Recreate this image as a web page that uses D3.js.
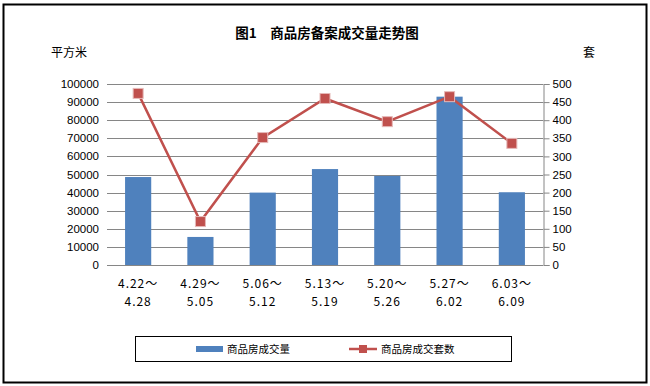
<!DOCTYPE html>
<html>
<head>
<meta charset="utf-8">
<script src="https://cdn.jsdelivr.net/npm/d3@7"></script>
<style>
  body { margin: 0; background: #fff; }
  svg { display: block; }
</style>
</head>
<body>
<svg id="chart" width="650" height="386"></svg>
<script>
// weekly periods, two lines per label
const periods = [["4.22～", "4.28"], ["4.29～", "5.05"], ["5.06～", "5.12"], ["5.13～", "5.19"],
                 ["5.20～", "5.26"], ["5.27～", "6.02"], ["6.03～", "6.09"]];
const areaValues = [48600, 15500, 40000, 53000, 49200, 93000, 40200];   // 平方米
const unitValues = [474, 120, 352, 460, 396, 465, 336];                 // 套
const leftTicks = d3.range(0, 100001, 10000);
const rightTicks = d3.range(0, 501, 50);

const svg = d3.select("#chart");
const margin = {top: 84, left: 107, right: 107, bottom: 121};
const width = 650 - margin.left - margin.right;
const height = 386 - margin.top - margin.bottom;

const latin = "'Liberation Sans', Arial, sans-serif";
const cjk = "'Noto Sans CJK SC', sans-serif";

// outer frame
svg.append("rect")
    .attr("x", 3.5).attr("y", 4.5)
    .attr("width", 643).attr("height", 378)
    .attr("fill", "none").attr("stroke", "#000").attr("stroke-width", 2);

svg.append("text")
    .attr("x", 327).attr("y", 38)
    .attr("text-anchor", "middle")
    .style("font-family", cjk).style("font-weight", "bold").style("font-size", "13.5px")
    .text("图1\u3000商品房备案成交量走势图");

svg.append("text")
    .attr("x", 51).attr("y", 57)
    .style("font-family", cjk).style("font-size", "12px")
    .text("平方米");

svg.append("text")
    .attr("x", 583).attr("y", 57)
    .style("font-family", cjk).style("font-size", "12px")
    .text("套");

const g = svg.append("g").attr("transform", `translate(${margin.left},${margin.top})`);

const x = d3.scaleBand().domain(d3.range(periods.length)).range([0, width]).paddingInner(0.58).paddingOuter(0.29);
const yLeft = d3.scaleLinear().domain([0, 100000]).range([height, 0]);
const yRight = d3.scaleLinear().domain([0, 500]).range([height, 0]);

// gridlines
g.append("g").selectAll("line")
    .data(leftTicks)
    .join("line")
    .attr("x1", 0).attr("x2", width)
    .attr("y1", d => Math.round(yLeft(d)) + 0.5)
    .attr("y2", d => Math.round(yLeft(d)) + 0.5)
    .attr("stroke", "#868686");

// left tick labels
g.append("g").selectAll("text")
    .data(leftTicks)
    .join("text")
    .attr("x", -8)
    .attr("y", d => yLeft(d) + 4)
    .attr("text-anchor", "end")
    .style("font-family", latin).style("font-size", "11.5px")
    .text(d => d);

// right axis
const rightAxis = g.append("g")
    .attr("transform", `translate(${width + 0.5},0)`)
    .call(d3.axisRight(yRight).tickValues(rightTicks).tickSize(6).tickPadding(3).tickFormat(d3.format("d")));
rightAxis.select(".domain").attr("stroke", "#868686");
rightAxis.selectAll(".tick line").attr("stroke", "#868686");
rightAxis.selectAll("text").style("font-family", latin).style("font-size", "11.5px").attr("fill", "#000");

// bars
g.append("g").selectAll("rect")
    .data(areaValues)
    .join("rect")
    .attr("x", (d, i) => x(i))
    .attr("y", d => yLeft(d))
    .attr("width", x.bandwidth())
    .attr("height", d => height - yLeft(d))
    .attr("fill", "#4f81bd");

// line + markers
const cx = i => x(i) + x.bandwidth() / 2;
g.append("path")
    .datum(unitValues)
    .attr("fill", "none")
    .attr("stroke", "#c0504d")
    .attr("stroke-width", 2.5)
    .attr("d", d3.line().x((d, i) => cx(i)).y(d => yRight(d)));

g.append("g").selectAll("rect")
    .data(unitValues)
    .join("rect")
    .attr("x", (d, i) => cx(i) - 5)
    .attr("y", d => yRight(d) - 5)
    .attr("width", 10).attr("height", 10)
    .attr("fill", "#c0504d")
    .attr("stroke", "#e6b9b8").attr("stroke-width", 1);

// category labels
const cat = g.append("g").selectAll("text")
    .data(periods)
    .join("text")
    .attr("text-anchor", "middle")
    .style("font-family", cjk).style("font-size", "12px")
    .style("letter-spacing", "1px");
cat.append("tspan").attr("x", (d, i) => cx(i)).attr("y", height + 23).text(d => d[0]);
cat.append("tspan").attr("x", (d, i) => cx(i)).attr("y", height + 41).text(d => d[1]);

// legend
const legend = svg.append("g");
legend.append("rect")
    .attr("x", 135.5).attr("y", 336.5).attr("width", 376).attr("height", 25)
    .attr("fill", "#fff").attr("stroke", "#000");
legend.append("rect")
    .attr("x", 196).attr("y", 346).attr("width", 27).attr("height", 6)
    .attr("fill", "#4f81bd");
legend.append("text")
    .attr("x", 227).attr("y", 353)
    .style("font-family", cjk).style("font-size", "10.5px")
    .text("商品房成交量");
legend.append("line")
    .attr("x1", 349).attr("x2", 377).attr("y1", 349).attr("y2", 349)
    .attr("stroke", "#c0504d").attr("stroke-width", 2.5);
legend.append("rect")
    .attr("x", 359).attr("y", 345).attr("width", 8).attr("height", 8)
    .attr("fill", "#c0504d");
legend.append("text")
    .attr("x", 381).attr("y", 353)
    .style("font-family", cjk).style("font-size", "10.5px")
    .text("商品房成交套数");
</script>
</body>
</html>
